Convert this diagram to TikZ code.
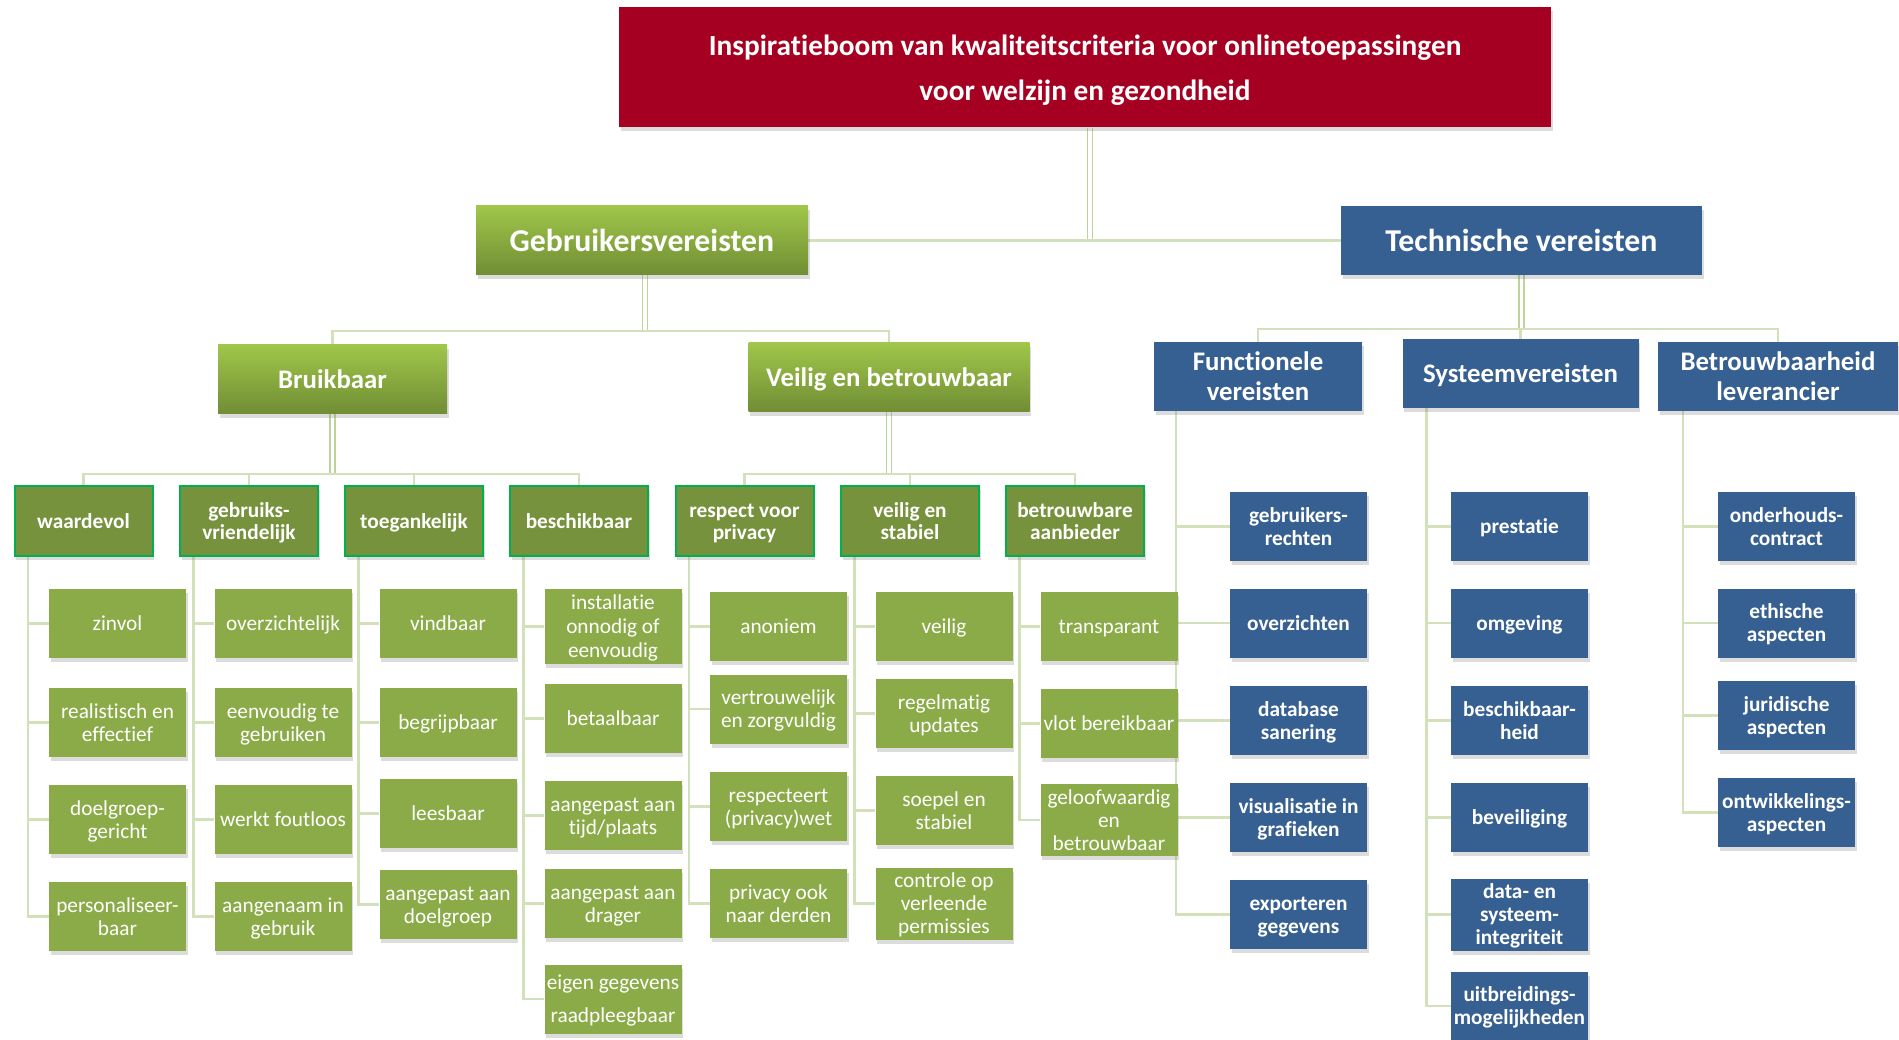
\documentclass[tikz,border=0pt]{standalone}
\usepackage{fontspec}
\setmainfont{Carlito}[Ligatures=NoCommon]
\usetikzlibrary{shadows,backgrounds}
\definecolor{titlered}{RGB}{165,0,33}
\definecolor{gtop}{RGB}{160,198,74}
\definecolor{gbot}{RGB}{112,141,52}
\definecolor{gdark}{RGB}{118,146,60}
\definecolor{gborder}{RGB}{0,176,80}
\definecolor{gleaf}{RGB}{139,171,72}
\definecolor{bblue}{RGB}{55,96,146}
\definecolor{lnA}{RGB}{190,211,154}
\definecolor{lnB}{RGB}{211,225,186}
\newcommand\tst{\rule{0pt}{0.952em}}
\tikzset{
  box/.style={rectangle, inner sep=0pt, align=center, text=white,
    drop shadow={shadow xshift=1.5pt, shadow yshift=-4pt, opacity=0.28},
    execute at begin node={\rule{0pt}{0.952em}},
    execute at end node={\rule[-0.269em]{0pt}{0.269em}}},
  titlebox/.style={box, fill=titlered, minimum width=932pt, minimum height=120pt,
    font=\fontsize{29.3}{45}\selectfont\bfseries},
  lone/.style={box, minimum height=69pt, font=\fontsize{31.8}{34}\selectfont\bfseries},
  ltwo/.style={box, minimum height=69pt, font=\fontsize{26.8}{29.5}\selectfont\bfseries},
  greenshade/.style={top color=gtop, bottom color=gbot},
  lthree/.style={box, fill=gdark, draw=gborder, line width=2pt, minimum width=138pt,
    minimum height=70pt, font=\fontsize{21.3}{22}\selectfont\bfseries},
  leaf/.style={box, fill=gleaf, minimum width=137pt, minimum height=69pt,
    font=\fontsize{21.3}{23}\selectfont},
  bleaf/.style={box, fill=bblue, minimum width=137pt, minimum height=69pt,
    font=\fontsize{21.3}{23}\selectfont\bfseries},
  conn/.style={draw=lnB, line width=2.5pt},
  trunk/.style={draw=lnA, line width=1.6pt, double=white, double distance=3.5pt},
}
\begin{document}
\begin{tikzpicture}[x=1pt,y=-1pt]
\useasboundingbox (0,0) rectangle (1899,1040);
% title and level 1
\node[titlebox] (title) at (1085,67.5) {\tst Inspiratieboom van kwaliteitscriteria voor onlinetoepassingen\\voor welzijn en gezondheid};
\node[lone, greenshade, minimum width=332pt] (gv) at (642,240.5) {Gebruikersvereisten};
\node[lone, fill=bblue, minimum width=361pt] (tv) at (1521.5,240.5) {Technische vereisten};
% level 2
\node[ltwo, greenshade, minimum width=229pt] (bk) at (332.5,379.5) {Bruikbaar};
\node[ltwo, greenshade, minimum width=281pt] (vb) at (889,377.5) {Veilig en betrouwbaar};
\node[ltwo, fill=bblue, minimum width=208pt] (fv) at (1258,376.5) {\tst Functionele\\vereisten};
\node[ltwo, fill=bblue, minimum width=236pt] (sv) at (1520.5,373.5) {Systeemvereisten};
\node[ltwo, fill=bblue, minimum width=240pt] (bl) at (1778,376.5) {\tst Betrouwbaarheid\\leverancier};
% level 3
\node[lthree] (wv) at (83.5,521) {waardevol};
\node[lthree] (gf) at (249,521) {\tst gebruiks-\\vriendelijk};
\node[lthree] (tg) at (414,521) {toegankelijk};
\node[lthree] (bs) at (579,521) {beschikbaar};
\node[lthree] (rp) at (744.5,521) {\tst respect voor\\privacy};
\node[lthree] (vs) at (910,521) {\tst veilig en\\stabiel};
\node[lthree] (ba) at (1075,521) {\tst betrouwbare\\aanbieder};
% leaves waardevol
\node[leaf] (wv1) at (117.5,623.5) {zinvol};
\node[leaf] (wv2) at (117.5,722.5) {\tst realistisch en\\effectief};
\node[leaf] (wv3) at (117.5,819.5) {\tst doelgroep-\\gericht};
\node[leaf] (wv4) at (117.5,916.5) {\tst personaliseer-\\baar};
% leaves gebruiksvriendelijk
\node[leaf] (gf1) at (283,623.5) {overzichtelijk};
\node[leaf] (gf2) at (283,722.5) {\tst eenvoudig te\\gebruiken};
\node[leaf] (gf3) at (283,819.5) {werkt foutloos};
\node[leaf] (gf4) at (283,916.5) {\tst aangenaam in\\gebruik};
% leaves toegankelijk
\node[leaf] (tg1) at (448,623.5) {vindbaar};
\node[leaf] (tg2) at (448,722.5) {begrijpbaar};
\node[leaf] (tg3) at (448,813.5) {leesbaar};
\node[leaf] (tg4) at (448,904.5) {\tst aangepast aan\\doelgroep};
% leaves beschikbaar
\node[leaf, font=\fontsize{21.3}{24}\selectfont] (bs1) at (613,626.5) {\tst installatie\\onnodig of\\eenvoudig};
\node[leaf] (bs2) at (613,718.5) {betaalbaar};
\node[leaf] (bs3) at (613,815.5) {\tst aangepast aan\\tijd/plaats};
\node[leaf] (bs4) at (613,903.5) {\tst aangepast aan\\drager};
\node[leaf, font=\fontsize{21.3}{33}\selectfont] (bs5) at (613,999) {\tst eigen gegevens\\raadpleegbaar};
% leaves respect voor privacy
\node[leaf] (rp1) at (778.5,626.5) {anoniem};
\node[leaf] (rp2) at (778.5,709) {\tst vertrouwelijk\\en zorgvuldig};
\node[leaf] (rp3) at (778.5,806.5) {\tst respecteert\\(privacy)wet};
\node[leaf] (rp4) at (778.5,903.5) {\tst privacy ook\\naar derden};
% leaves veilig en stabiel
\node[leaf] (vs1) at (944,626.5) {veilig};
\node[leaf] (vs2) at (944,713.5) {\tst regelmatig\\updates};
\node[leaf] (vs3) at (944,810.5) {\tst soepel en\\stabiel};
\node[leaf] (vs4) at (944,903.5) {\tst controle op\\verleende\\permissies};
% leaves betrouwbare aanbieder
\node[leaf] (ba1) at (1109,626.5) {transparant};
\node[leaf] (ba2) at (1109,723.5) {vlot bereikbaar};
\node[leaf] (ba3) at (1109,820) {\tst geloofwaardig\\en\\betrouwbaar};
% technical leaves
\node[bleaf] (fv1) at (1298.5,526.5) {\tst gebruikers-\\rechten};
\node[bleaf] (fv2) at (1298.5,623) {overzichten};
\node[bleaf] (fv3) at (1298.5,720.5) {\tst database\\sanering};
\node[bleaf] (fv4) at (1298.5,817.5) {\tst visualisatie in\\grafieken};
\node[bleaf] (fv5) at (1298.5,914.5) {\tst exporteren\\gegevens};
\node[bleaf] (sv1) at (1519.5,526.5) {prestatie};
\node[bleaf] (sv2) at (1519.5,623) {omgeving};
\node[bleaf] (sv3) at (1519.5,720.5) {\tst beschikbaar-\\heid};
\node[bleaf] (sv4) at (1519.5,817.5) {beveiliging};
\node[bleaf] (sv5) at (1519.5,914.5) {\tst data- en\\systeem-\\integriteit};
\node[bleaf] (sv6) at (1519.5,1006) {\tst uitbreidings-\\mogelijkheden};
\node[bleaf] (bl1) at (1786.5,526.5) {\tst onderhouds-\\contract};
\node[bleaf] (bl2) at (1786.5,623) {\tst ethische\\aspecten};
\node[bleaf] (bl3) at (1786.5,715.5) {\tst juridische\\aspecten};
\node[bleaf] (bl4) at (1786.5,812.5) {\tst ontwikkelings-\\aspecten};
% connectors
\begin{scope}[on background layer]
  \draw[trunk] ([xshift=5pt]title.south) -- ([xshift=5pt]title.south |- gv.east);
  \draw[conn] (gv.east) -- (tv.west);
  \draw[trunk] ([xshift=3pt]gv.south) -- ++(0,56) coordinate (gvj);
  \draw[conn] (bk.north) |- (gvj) -| (vb.north);
  \draw[trunk] (tv.south) -- ++(0,54) coordinate (tvj);
  \draw[conn] (fv.north) |- (tvj) -| (bl.north);
  \draw[conn] (sv.north) -- (sv.north |- tvj);
  \draw[trunk] (bk.south) -- ++(0,60) coordinate (bkj);
  \draw[conn] (wv.north) |- (bkj) -| (bs.north);
  \draw[conn] (gf.north) -- (gf.north |- bkj);
  \draw[conn] (tg.north) -- (tg.north |- bkj);
  \draw[trunk] (vb.south) -- ++(0,62) coordinate (vbj);
  \draw[conn] (rp.north) |- (vbj) -| (ba.north);
  \draw[conn] (vs.north) -- (vs.north |- vbj);
  \foreach \c in {wv1,wv2,wv3,wv4} \draw[conn] ([xshift=14.5pt]wv.south west) |- (\c.west);
  \foreach \c in {gf1,gf2,gf3,gf4} \draw[conn] ([xshift=14.5pt]gf.south west) |- (\c.west);
  \foreach \c in {tg1,tg2,tg3,tg4} \draw[conn] ([xshift=14.5pt]tg.south west) |- (\c.west);
  \foreach \c in {bs1,bs2,bs3,bs4,bs5} \draw[conn] ([xshift=14.5pt]bs.south west) |- (\c.west);
  \foreach \c in {rp1,rp2,rp3,rp4} \draw[conn] ([xshift=14.5pt]rp.south west) |- (\c.west);
  \foreach \c in {vs1,vs2,vs3,vs4} \draw[conn] ([xshift=14.5pt]vs.south west) |- (\c.west);
  \foreach \c in {ba1,ba2,ba3} \draw[conn] ([xshift=14.5pt]ba.south west) |- (\c.west);
  \foreach \c in {fv1,fv2,fv3,fv4,fv5} \draw[conn] ([xshift=22pt]fv.south west) |- (\c.west);
  \foreach \c in {sv1,sv2,sv3,sv4,sv5,sv6} \draw[conn] ([xshift=24pt]sv.south west) |- (\c.west);
  \foreach \c in {bl1,bl2,bl3,bl4} \draw[conn] ([xshift=25pt]bl.south west) |- (\c.west);
\end{scope}
\end{tikzpicture}
\end{document}
